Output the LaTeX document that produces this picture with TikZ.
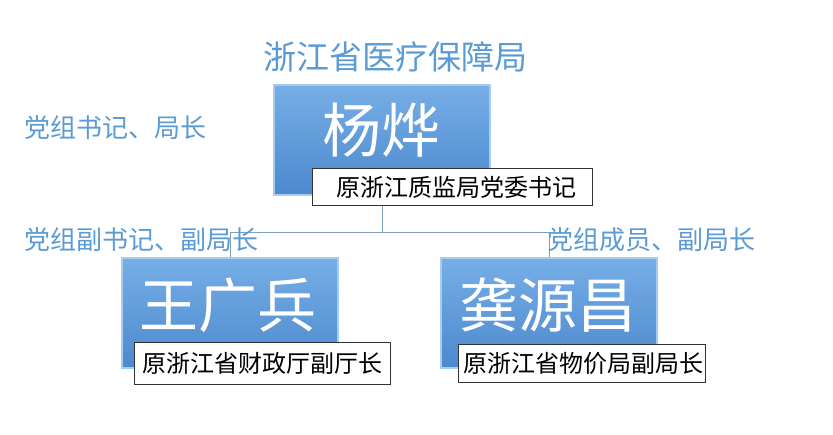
\documentclass[tikz,border=0pt]{standalone}
\usepackage{fontspec}
\setmainfont{Noto Sans CJK SC}
\definecolor{lblue}{HTML}{5B9BD5}
\definecolor{btop}{HTML}{76AEE6}
\definecolor{bbot}{HTML}{4C89CE}
\definecolor{bedge}{HTML}{A8CCF0}
\definecolor{conn}{HTML}{7F9FC0}
\tikzset{
  namebox/.style={rectangle, minimum width=216pt, minimum height=110pt, top color=btop, bottom color=bbot, draw=bedge, line width=2pt, text=white, inner sep=0pt},
  namefont/.style={font=\fontsize{59}{59}\selectfont},
  capbox/.style={rectangle, fill=white, draw=black!80, line width=0.6pt, font=\fontsize{24}{24}\selectfont, text=black, inner sep=0pt},
  rolelabel/.style={text=lblue, font=\fontsize{26}{26}\selectfont, inner sep=0pt},
  connline/.style={draw=conn, line width=1pt}
}
\begin{document}
\begin{tikzpicture}[x=1pt,y=-1pt]
\useasboundingbox (0,0) rectangle (833,434);
\node[rolelabel, font=\fontsize{33}{33}\selectfont] (title) at (395,57) {浙江省医疗保障局};
% boxes
\node[namebox] (top) at (382,140) {};
\node[namebox] (left) at (230,313) {};
\node[namebox] (right) at (549,313) {};
% connectors
\node[capbox, minimum width=280pt, minimum height=37pt] (captop) at (452,187) {\hspace*{8pt}原浙江质监局党委书记};
\coordinate (bus) at (382,232);
\draw[connline] (captop.south -| top.center) -- (bus);
\draw[connline] (bus) -| (left.north);
\draw[connline] (bus) -| (right.north);
% names
\node[namefont, text=white] (ntop) at (381,130) {杨烨};
\node[namefont, text=white] (nleft) at (228,305) {王广兵};
\node[namefont, text=white] (nright) at (548,305) {龚源昌};
% captions
\node[capbox, minimum width=256pt, minimum height=42pt] (capleft) at (262,363) {原浙江省财政厅副厅长};
\node[capbox, minimum width=247pt, minimum height=38pt] (capright) at (582,363) {\hspace*{3pt}原浙江省物价局副局长};
% role labels
\node[rolelabel, anchor=west] (r1) at (24,128) {党组书记、局长};
\node[rolelabel, anchor=west] (r2) at (24,240) {党组副书记、副局长};
\node[rolelabel, anchor=west] (r3) at (547,240) {党组成员、副局长};
\end{tikzpicture}
\end{document}
